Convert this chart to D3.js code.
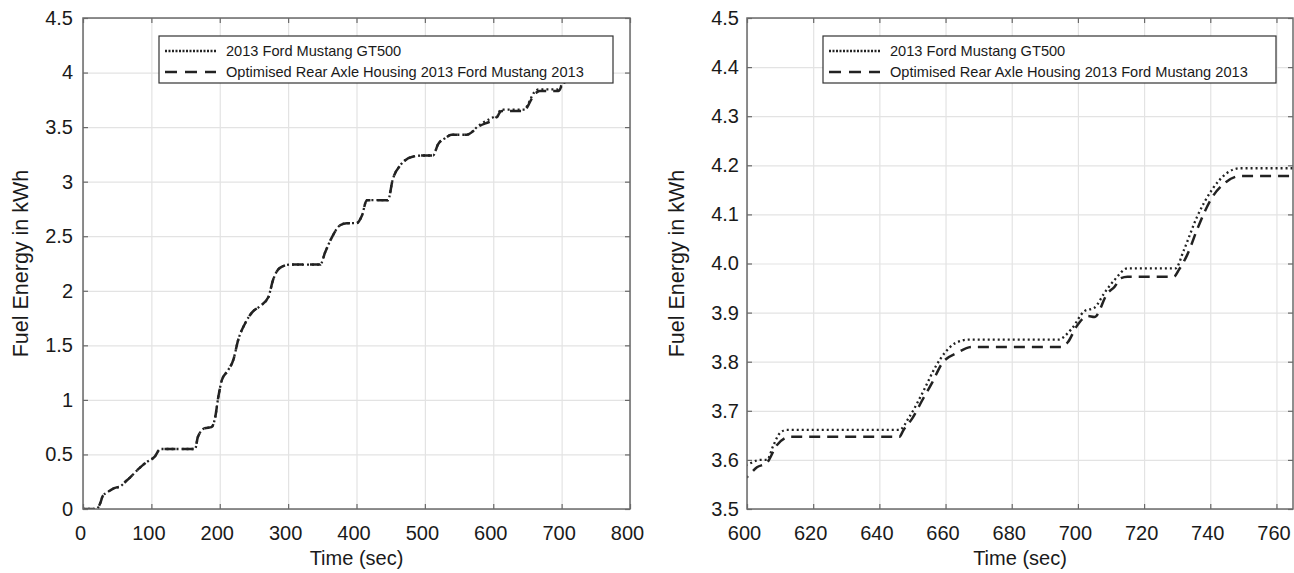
<!DOCTYPE html>
<html>
<head>
<meta charset="utf-8">
<script src="https://cdn.jsdelivr.net/npm/d3@7"></script>
<style>
  html, body { margin: 0; padding: 0; background: #fff; }
  svg { display: block; }
  text { font-family: "Liberation Sans", Arial, Helvetica, sans-serif; fill: #1a1a1a; }
</style>
</head>
<body>
<svg id="chart" width="1294" height="573"></svg>
<script>
// ---------- data ----------
const seriesNames = ["2013 Ford Mustang GT500", "Optimised Rear Axle Housing 2013 Ford Mustang 2013"];

const gt500Time = [0,20,25,29,35,45,55,62,69,80,93,105,113,164,168,178,188,193,198,203,212,220,227,237,247,259,271,278,288,303,347,354,364,376,386,400,408,415,446,453,464,483,497,512,519,530,539,561,580,595,
  600,604,606,608,610,612,646,649,653,657,660,663,667,694,698,702,705,708,711,715,729.5,732,736,740.5,745,749,765];
const gt500Energy = [0,0,0.05,0.12,0.15,0.19,0.21,0.25,0.29,0.36,0.43,0.48,0.55,0.55,0.66,0.74,0.75,0.83,1.03,1.18,1.27,1.37,1.55,1.70,1.80,1.86,1.94,2.10,2.21,2.24,2.24,2.35,2.49,2.60,2.62,2.62,2.69,2.83,2.83,3.02,3.15,3.23,3.24,3.24,3.34,3.40,3.43,3.43,3.52,3.575,
  3.59,3.60,3.60,3.63,3.655,3.661,3.661,3.687,3.736,3.79,3.82,3.838,3.845,3.845,3.866,3.903,3.91,3.94,3.966,3.99,3.99,4.027,4.095,4.15,4.184,4.194,4.194];

const optTime = [0,20,25,29,35,45,55,62,69,80,93,105,113,164,168,178,188,193,198,203,212,220,227,237,247,259,271,278,288,303,347,354,364,376,386,400,408,415,446,453,464,483,497,512,519,530,539,561,580,595,
  600,603,606,609,613,646,647.3,650,653,656,659,663.5,668,695,697,699.5,703,705,709,711,713,715,729,730.5,733,736.3,740.6,744.8,749,765];
const optEnergy = [0,0,0.05,0.12,0.15,0.19,0.21,0.25,0.29,0.36,0.43,0.48,0.55,0.55,0.66,0.74,0.75,0.83,1.03,1.18,1.27,1.37,1.55,1.70,1.80,1.86,1.94,2.10,2.21,2.24,2.24,2.35,2.49,2.60,2.62,2.62,2.69,2.83,2.83,3.02,3.15,3.23,3.24,3.24,3.34,3.40,3.43,3.43,3.51,3.55,
  3.565,3.585,3.594,3.63,3.647,3.647,3.661,3.685,3.722,3.758,3.797,3.818,3.83,3.83,3.84,3.871,3.893,3.891,3.94,3.952,3.97,3.973,3.973,3.987,4.017,4.074,4.135,4.166,4.178,4.178];

const leftXTicks = [0,100,200,300,400,500,600,700,800];
const leftYTicks = [0,0.5,1,1.5,2,2.5,3,3.5,4,4.5];
const leftYLabels = ["0","0.5","1","1.5","2","2.5","3","3.5","4","4.5"];
const rightXTicks = [600,620,640,660,680,700,720,740,760];
const rightYTicks = [3.5,3.6,3.7,3.8,3.9,4.0,4.1,4.2,4.3,4.4,4.5];
const rightYLabels = ["3.5","3.6","3.7","3.8","3.9","4.0","4.1","4.2","4.3","4.4","4.5"];
const xLabel = "Time (sec)";
const yLabel = "Fuel Energy in kWh";

// ---------- drawing ----------
const svg = d3.select("#chart");
const gt500Data = gt500Time.map((t, i) => ({t, v: gt500Energy[i]}));
const optData = optTime.map((t, i) => ({t, v: optEnergy[i]}));

const FS = 20;
const styles = [
  {dash: "2,3", width: 2.3, color: "#222"},
  {dash: "11,7", width: 2.5, color: "#222"}
];

function panel(cfg) {
  const {x0, x1, y0, y1, xDomain, yDomain, xTicks, yTicks, yLabels, id, yTickGap, yLabelX, legend} = cfg;
  const x = d3.scaleLinear().domain(xDomain).range([x0, x1]);
  const y = d3.scaleLinear().domain(yDomain).range([y1, y0]);
  const g = svg.append("g");
  const w = x1 - x0, h = y1 - y0;

  // grid
  g.append("g").attr("transform", `translate(0,${y1})`)
    .call(d3.axisBottom(x).tickValues(xTicks).tickSize(-h).tickFormat(""))
    .call(s => s.select(".domain").remove())
    .call(s => s.selectAll("line").attr("stroke", "#e3e3e3").attr("stroke-width", 1.2));
  g.append("g").attr("transform", `translate(${x0},0)`)
    .call(d3.axisLeft(y).tickValues(yTicks).tickSize(-w).tickFormat(""))
    .call(s => s.select(".domain").remove())
    .call(s => s.selectAll("line").attr("stroke", "#e3e3e3").attr("stroke-width", 1.2));

  // clip
  svg.append("clipPath").attr("id", id).append("rect")
    .attr("x", x0).attr("y", y0).attr("width", w).attr("height", h);

  const line = d3.line().x(d => x(d.t)).y(d => y(d.v)).curve(d3.curveMonotoneX);
  const lines = g.append("g").attr("clip-path", `url(#${id})`);
  [gt500Data, optData].forEach((data, i) => {
    lines.append("path").datum(data)
      .attr("fill", "none")
      .attr("stroke", styles[i].color)
      .attr("stroke-width", styles[i].width)
      .attr("stroke-dasharray", styles[i].dash)
      .attr("d", line);
  });

  // inward ticks & labels
  const axCol = "#6a6a6a";
  const bottom = g.append("g").attr("transform", `translate(0,${y1})`)
    .call(d3.axisBottom(x).tickValues(xTicks).tickSize(-5).tickPadding(17).tickFormat(d3.format("d")));
  bottom.select(".domain").remove();
  bottom.selectAll("line").attr("stroke", axCol).attr("stroke-width", 1.2);
  bottom.selectAll("text").attr("font-size", FS).attr("dx", -3);

  const top = g.append("g").attr("transform", `translate(0,${y0})`)
    .call(d3.axisTop(x).tickValues(xTicks).tickSize(-5).tickFormat(""));
  top.select(".domain").remove();
  top.selectAll("line").attr("stroke", axCol).attr("stroke-width", 1.2);

  const left = g.append("g").attr("transform", `translate(${x0},0)`)
    .call(d3.axisLeft(y).tickValues(yTicks).tickSize(-5).tickPadding(yTickGap).tickFormat((d, i) => yLabels[i]));
  left.select(".domain").remove();
  left.selectAll("line").attr("stroke", axCol).attr("stroke-width", 1.2);
  left.selectAll("text").attr("font-size", FS);

  const right = g.append("g").attr("transform", `translate(${x1},0)`)
    .call(d3.axisRight(y).tickValues(yTicks).tickSize(-5).tickFormat(""));
  right.select(".domain").remove();
  right.selectAll("line").attr("stroke", axCol).attr("stroke-width", 1.2);

  svg.selectAll("g text").attr("font-family", null);

  // box
  g.append("rect").attr("x", x0).attr("y", y0).attr("width", w).attr("height", h)
    .attr("fill", "none").attr("stroke", axCol).attr("stroke-width", 1.5);

  // axis labels
  g.append("text").attr("x", (x0 + x1) / 2).attr("y", 565)
    .attr("text-anchor", "middle").attr("font-size", FS).text(xLabel);
  g.append("text").attr("transform", `translate(${yLabelX},${(y0 + y1) / 2}) rotate(-90)`)
    .attr("text-anchor", "middle").attr("font-size", 21.5).text(yLabel);

  // legend
  const lg = g.append("g");
  lg.append("rect").attr("x", legend.x).attr("y", legend.y).attr("width", legend.w).attr("height", legend.h)
    .attr("fill", "#fff").attr("stroke", "#333").attr("stroke-width", 1.2);
  seriesNames.forEach((name, i) => {
    const yy = legend.y + 15 + i * 21;
    lg.append("line").attr("x1", legend.x + 6).attr("x2", legend.x + 57).attr("y1", yy).attr("y2", yy)
      .attr("stroke", styles[i].color).attr("stroke-width", styles[i].width)
      .attr("stroke-dasharray", i === 0 ? "2,1.5" : "12,8");
    lg.append("text").attr("x", legend.x + 67).attr("y", yy + 5).attr("font-size", 14.6).text(name);
  });
}

panel({
  id: "clipL", x0: 83, x1: 630, y0: 18, y1: 509,
  xDomain: [0, 800], yDomain: [0, 4.5],
  xTicks: leftXTicks, yTicks: leftYTicks, yLabels: leftYLabels,
  yTickGap: 10, yLabelX: 28,
  legend: {x: 159, y: 36, w: 454, h: 47}
});
panel({
  id: "clipR", x0: 747, x1: 1293, y0: 18, y1: 509,
  xDomain: [600, 765], yDomain: [3.5, 4.5],
  xTicks: rightXTicks, yTicks: rightYTicks, yLabels: rightYLabels,
  yTickGap: 8, yLabelX: 684,
  legend: {x: 823, y: 36, w: 453, h: 47}
});
</script>
</body>
</html>
